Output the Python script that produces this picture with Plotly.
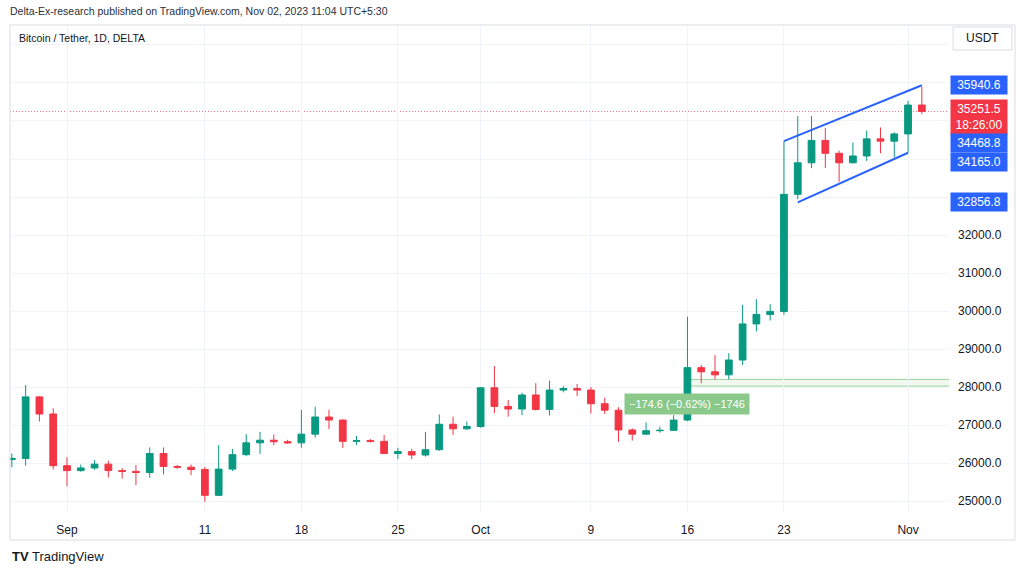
import pandas as pd
import plotly.graph_objects as go

# daily candles, Aug 28 -> Nov 2 2023
dates = pd.date_range("2023-08-28", "2023-11-02", freq="D")

opens = [26090, 26120, 27740, 27290,
         25930, 25800, 25870, 25970, 25800, 25780, 25750, 26250, 25910, 25890,
         25830, 25150, 25840, 26220, 26530, 26600, 26560, 26530, 26760, 27210,
         27130, 26570, 26590, 26570, 26250, 26300, 26210, 26350, 27020, 26900,
         26960, 27980, 27490, 27420, 27790, 27410, 27920, 27960, 27920, 27560,
         27390, 26870, 26760, 26850, 26860, 27130, 28510, 28400, 28320, 28710,
         29660, 29910, 29990, 33070, 33900, 34490, 34150, 33900, 34080, 34530,
         34470, 34660, 35420]
highs = [26250, 28050, 27760, 27440,
         26150, 25960, 26080, 26060, 25870, 25950, 26410, 26410, 25950, 25960,
         25900, 26470, 26370, 26760, 26820, 26750, 26610, 27400, 27480, 27400,
         27150, 26710, 26630, 26740, 26400, 26370, 26820, 27280, 27220, 27090,
         27990, 28550, 27660, 27850, 28100, 28170, 28030, 28080, 28000, 27720,
         27470, 26910, 27070, 26960, 27260, 29850, 28580, 28840, 28890, 30160,
         30310, 30180, 34468.8, 35130, 35130, 34820, 34220, 34430, 34750, 34830,
         34700, 35530, 35900]
lows = [25890, 25930, 27090, 25830,
        25390, 25770, 25820, 25620, 25590, 25420, 25610, 25700, 25850, 25680,
        24980, 25130, 25790, 26180, 26240, 26470, 26500, 26400, 26670, 26890,
        26400, 26470, 26540, 26240, 26100, 26100, 26170, 26320, 26740, 26870,
        26930, 27310, 27220, 27260, 27380, 27250, 27860, 27760, 27300, 27290,
        26560, 26590, 26740, 26800, 26850, 27100, 28100, 28200, 28200, 28580,
        29460, 29750, 29900, 32940, 33760, 33760, 33400, 33880, 33950, 34150,
        34040, 34165, 35180]
closes = [26120, 27740, 27290, 25930,
          25800, 25870, 25970, 25800, 25780, 25750, 26250, 25910, 25890, 25830,
          25150, 25840, 26220, 26530, 26600, 26560, 26530, 26760, 27210, 27130,
          26570, 26590, 26570, 26250, 26300, 26210, 26350, 27020, 26900, 26960,
          27980, 27490, 27420, 27790, 27410, 27920, 27960, 27920, 27560, 27390,
          26870, 26760, 26850, 26860, 27130, 28510, 28400, 28320, 28710, 29660,
          29910, 29990, 33070, 33900, 34490, 34150, 33900, 34080, 34530, 34470,
          34660, 35420, 35251.5]

# drawn channel (rising wedge)
upper_x = ["2023-10-23", "2023-11-02"]
upper_y = [34468.8, 35940.6]
lower_x = ["2023-10-24", "2023-11-01"]
lower_y = [32856.8, 34165.0]

# price range measurement box
range_start = "2023-10-16"
range_top = 28200.0
range_bottom = 28025.4
measure_text = "\u2212174.6 (\u22120.62%) \u22121746"
measure_y = 27540

last_price = 35251.5
countdown = "18:26:00"

y_ticks = list(range(25000, 38000, 1000))
x_tick_dates = ["2023-09-01", "2023-09-11", "2023-09-18", "2023-09-25", "2023-10-01",
                "2023-10-09", "2023-10-16", "2023-10-23", "2023-11-01"]
x_tick_text = ["Sep", "11", "18", "25", "Oct", "9", "16", "23", "Nov"]

UP = "#089981"
DOWN = "#F23645"
BLUE = "#2962FF"
GRID = "#f0f3fa"
TXT = "#131722"
FONT = "Liberation Sans"

fig = go.Figure()

fig.add_trace(go.Candlestick(
    x=dates, open=opens, high=highs, low=lows, close=closes,
    increasing=dict(line=dict(color=UP, width=1), fillcolor=UP),
    decreasing=dict(line=dict(color=DOWN, width=1), fillcolor=DOWN),
    whiskerwidth=0, showlegend=False, hoverinfo="skip",
))

for xs, ys in [(upper_x, upper_y), (lower_x, lower_y)]:
    fig.add_trace(go.Scatter(x=xs, y=ys, mode="lines", line=dict(color=BLUE, width=2),
                             showlegend=False, hoverinfo="skip"))

shapes = [
    # last price dotted line
    dict(type="line", xref="paper", x0=0, x1=1, yref="y", y0=last_price, y1=last_price,
         line=dict(color="rgba(242,54,69,0.7)", width=1, dash="1px,2px"), layer="below"),
    # measured range
    dict(type="rect", xref="x", x0=range_start, x1="2023-11-20", yref="y",
         y0=range_bottom, y1=range_top, fillcolor="rgba(76,175,80,0.08)",
         line=dict(color="rgba(76,175,80,0.55)", width=1), layer="below"),
    # outer frame
    dict(type="rect", xref="paper", yref="paper", x0=0, x1=1.0703, y0=-0.0575, y1=1,
         line=dict(color="#d9dce3", width=1)),
    # USDT box
    dict(type="rect", xref="paper", yref="paper", x0=1.0043, x1=1.0671, y0=0.9487, y1=0.9959,
         line=dict(color="#d9dce3", width=1), fillcolor="white"),
]

annotations = [
    dict(text="Delta-Ex-research published on TradingView.com, Nov 02, 2023 11:04 UTC+5:30",
         xref="paper", yref="paper", x=-0.002, y=1.0287, xanchor="left", yanchor="middle",
         showarrow=False, font=dict(size=10.5, color="#2a2e39", family=FONT)),
    dict(text="Bitcoin / Tether, 1D, DELTA", xref="paper", yref="paper", x=0.0075, y=0.9733,
         xanchor="left", yanchor="middle", showarrow=False,
         font=dict(size=10.5, color=TXT, family=FONT)),
    dict(text="USDT", xref="paper", yref="paper", x=1.0357, y=0.9723, xanchor="center",
         yanchor="middle", showarrow=False, font=dict(size=12, color=TXT, family=FONT)),
    dict(text="<b>TV</b> TradingView", xref="paper", yref="paper", x=0, y=-0.0924,
         xanchor="left", yanchor="middle", showarrow=False,
         font=dict(size=13, color=TXT, family=FONT)),
    dict(text=measure_text, x=range_start, y=measure_y, xref="x", yref="y", showarrow=False,
         xanchor="center", yanchor="middle", bgcolor="#8bc98b", borderpad=4,
         font=dict(size=11, color="white", family=FONT)),
]

# right-hand price labels: (value, text, colour, pixel shift)
price_labels = [
    (upper_y[1], f"{upper_y[1]:.1f}", BLUE, 0),
    (last_price, f"{last_price:.1f}<br>{countdown}", DOWN, -6),
    (upper_y[0], f"{upper_y[0]:.1f}", BLUE, -2),
    (lower_y[1], f"{lower_y[1]:.1f}", BLUE, -9),
    (lower_y[0], f"{lower_y[0]:.1f}", BLUE, 0),
]
for val, txt, col, shift in price_labels:
    annotations.append(dict(text=txt, xref="paper", yref="y", x=1, y=val, xshift=1, yshift=shift,
                            xanchor="left", yanchor="middle", showarrow=False, bgcolor=col,
                            borderpad=2, width=52, align="center",
                            font=dict(size=12, color="white", family=FONT)))

hidden = {33000, 34000, 35000, 36000, 37000}
fig.update_layout(
    width=1024, height=573,
    margin=dict(l=10, r=75, t=25, b=61),
    paper_bgcolor="white", plot_bgcolor="white",
    font=dict(family=FONT, color=TXT, size=12),
    shapes=shapes, annotations=annotations,
    xaxis=dict(type="date", range=["2023-08-27 20:47", "2023-11-03 23:17"],
               rangeslider=dict(visible=False), tickvals=x_tick_dates, ticktext=x_tick_text,
               showgrid=True, gridcolor=GRID, zeroline=False, showline=False, ticks="",
               ticklen=0, ticklabelstandoff=9, tickfont=dict(size=12, color=TXT)),
    yaxis=dict(side="right", range=[24711, 37526], tickvals=y_ticks,
               ticktext=["" if v in hidden else f"{v:.1f}" for v in y_ticks],
               showgrid=True, gridcolor=GRID, zeroline=False, showline=False, ticks="",
               ticklen=0, ticklabelstandoff=8, tickfont=dict(size=12, color=TXT)),
)

# drop the browser's default 8px body margin so the page lines up with the window
fig.write_html("out.html", config={"displayModeBar": False},
               post_script="document.body.style.margin='0';")
